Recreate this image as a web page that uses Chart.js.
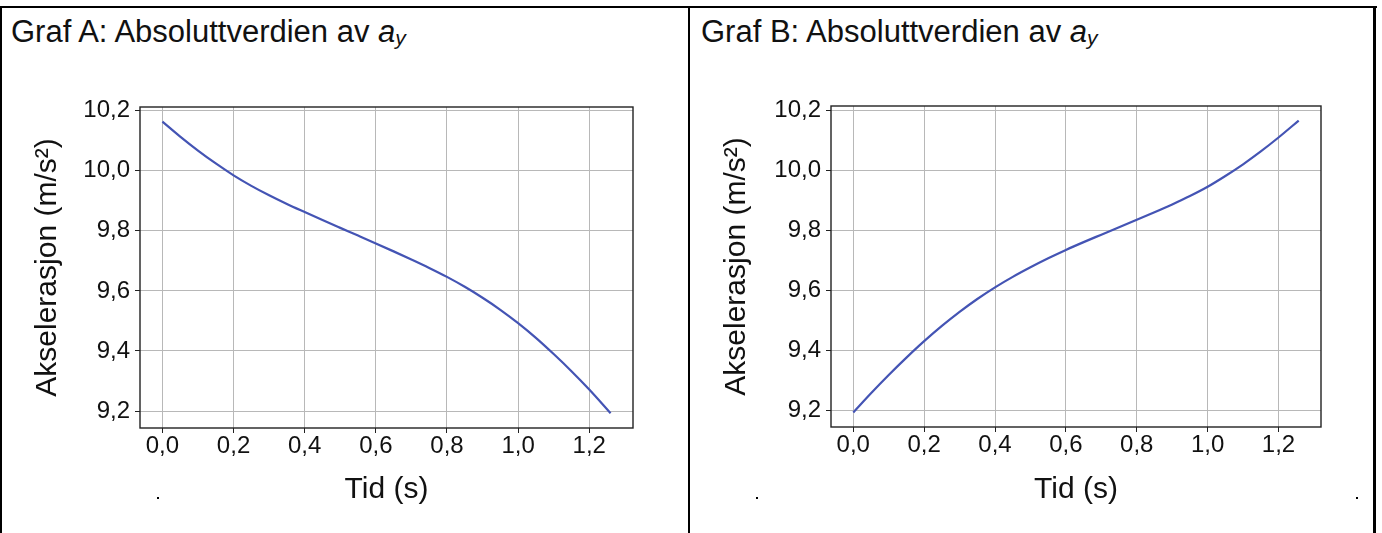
<!DOCTYPE html>
<html><head><meta charset="utf-8">
<script src="https://cdn.jsdelivr.net/npm/chart.js@4.4.1/dist/chart.umd.min.js"></script>
<style>
html,body{margin:0;padding:0;background:#fff;}
body{width:1382px;height:533px;position:relative;overflow:hidden;font-family:"Liberation Sans",Arial,sans-serif;}
.title{position:absolute;font-size:31px;line-height:31px;color:#111;white-space:nowrap;}
.title i{font-style:italic;}
.title sub{font-size:0.68em;position:relative;top:0.14em;vertical-align:baseline;font-style:italic;}
.wrap{position:absolute;}
#wa{left:0;top:0;width:689px;height:533px;}
#wb{left:691px;top:0;width:682px;height:533px;}
.rule{position:absolute;background:#000;}
.dot{position:absolute;width:2px;height:2px;background:#000;}
</style></head><body>
<div class="rule" style="left:0;top:6px;width:1377px;height:2px"></div>
<div class="rule" style="left:0;top:6px;width:2px;height:527px"></div>
<div class="rule" style="left:688px;top:6px;width:2px;height:527px"></div>
<div class="rule" style="left:1373px;top:6px;width:3px;height:527px"></div>
<div class="dot" style="left:157px;top:497px"></div>
<div class="dot" style="left:756px;top:497px"></div>
<div class="dot" style="left:1356px;top:497px"></div>
<div class="title" style="left:11px;top:16px">Graf A: Absoluttverdien av <i>a</i><sub>y</sub></div>
<div class="title" style="left:701px;top:16px">Graf B: Absoluttverdien av <i>a</i><sub>y</sub></div>
<div class="wrap" id="wa"><canvas id="ca"></canvas></div>
<div class="wrap" id="wb"><canvas id="cb"></canvas></div>
<script>
// ---- data ----
const timeA  = [0.00,0.05,0.10,0.15,0.20,0.25,0.30,0.35,0.40,0.45,0.50,0.55,0.60,0.65,0.70,0.75,0.80,0.85,0.90,0.95,1.00,1.05,1.10,1.15,1.20,1.26];
const accelA = [10.164,10.114,10.0675,10.0245,9.985,9.950,9.9185,9.8895,9.8625,9.836,9.810,9.7842,9.7582,9.7317,9.7047,9.6767,9.6467,9.6137,9.5772,9.5372,9.4927,9.4437,9.3897,9.3327,9.2717,9.1927];
const timeB  = [0.00,0.05,0.10,0.15,0.20,0.25,0.30,0.35,0.40,0.45,0.50,0.55,0.60,0.65,0.70,0.75,0.80,0.85,0.90,0.95,1.00,1.05,1.10,1.15,1.20,1.257];
const accelB = [9.192,9.256,9.317,9.375,9.430,9.481,9.528,9.571,9.610,9.645,9.677,9.707,9.735,9.761,9.786,9.811,9.836,9.861,9.887,9.915,9.946,9.982,10.021,10.064,10.1105,10.167];
const xTicks = [0.0,0.2,0.4,0.6,0.8,1.0,1.2];
const yTicks = [9.2,9.4,9.6,9.8,10.0,10.2];
const xTitle = 'Tid (s)';
const yTitle = 'Akselerasjon (m/s\u00B2)';

const FONT = '"Liberation Sans", Arial, sans-serif';
const fmt = v => Number(v).toFixed(1).replace('.', ',');

const framePlugin = {
  id: 'frame',
  afterDatasetsDraw(chart) {
    const {ctx, chartArea: a} = chart;
    ctx.save();
    ctx.strokeStyle = '#222';
    ctx.lineWidth = 1.4;
    ctx.strokeRect(a.left, a.top, a.right - a.left, a.bottom - a.top);
    ctx.restore();
  }
};

function makeChart(id, times, values, o) {
  const pts = times.map((t, i) => ({x: t, y: values[i]}));
  return new Chart(document.getElementById(id), {
    type: 'scatter',
    data: {datasets: [{
      data: pts, showLine: true, borderColor: '#4454b4', borderWidth: 2.2,
      pointRadius: 0, fill: false, cubicInterpolationMode: 'monotone'
    }]},
    plugins: [framePlugin],
    options: {
      responsive: true, maintainAspectRatio: false, animation: false, devicePixelRatio: 1,
      layout: {padding: {top: o.top, right: o.right, bottom: 0, left: 0}},
      plugins: {legend: {display: false}, tooltip: {enabled: false}},
      scales: {
        x: {
          type: 'linear', min: o.xmin, max: o.xmax,
          afterBuildTicks: s => { s.ticks = xTicks.map(v => ({value: v})); },
          afterFit: s => { s.height = o.xh; },
          grid: {color: '#b8b8b8', lineWidth: 1, tickColor: '#222', tickLength: 5, drawTicks: true},
          border: {display: false},
          ticks: {autoSkip: false, maxRotation: 0, padding: 1, color: '#111',
                  font: {family: FONT, size: 24, lineHeight: 1}, callback: v => fmt(v)},
          title: {display: true, text: xTitle, color: '#111',
                  font: {family: FONT, size: 30, lineHeight: 1.2}, padding: {top: 0, bottom: 25}}
        },
        y: {
          type: 'linear', min: o.ymin, max: o.ymax,
          afterBuildTicks: s => { s.ticks = yTicks.map(v => ({value: v})); },
          afterFit: s => { s.width = o.yw; },
          grid: {color: '#b8b8b8', lineWidth: 1, tickColor: '#222', tickLength: 5, drawTicks: true},
          border: {display: false},
          ticks: {autoSkip: false, padding: 5, color: '#111',
                  font: {family: FONT, size: 24, lineHeight: 1}, callback: v => fmt(v)},
          title: {display: true, text: yTitle, color: '#111',
                  font: {family: FONT, size: 30, lineHeight: 1.2}, padding: {top: o.ytp, bottom: 0}}
        }
      }
    }
  });
}

makeChart('ca', timeA, accelA, {top: 107, right: 56, xh: 105, yw: 140, ytp: 30,
  xmin: -0.063, xmax: 1.323, ymin: 9.1434, ymax: 10.2126});
makeChart('cb', timeB, accelB, {top: 106, right: 52, xh: 106, yw: 140, ytp: 28,
  xmin: -0.0629, xmax: 1.3199, ymin: 9.1433, ymax: 10.2158});
</script>
</body></html>
